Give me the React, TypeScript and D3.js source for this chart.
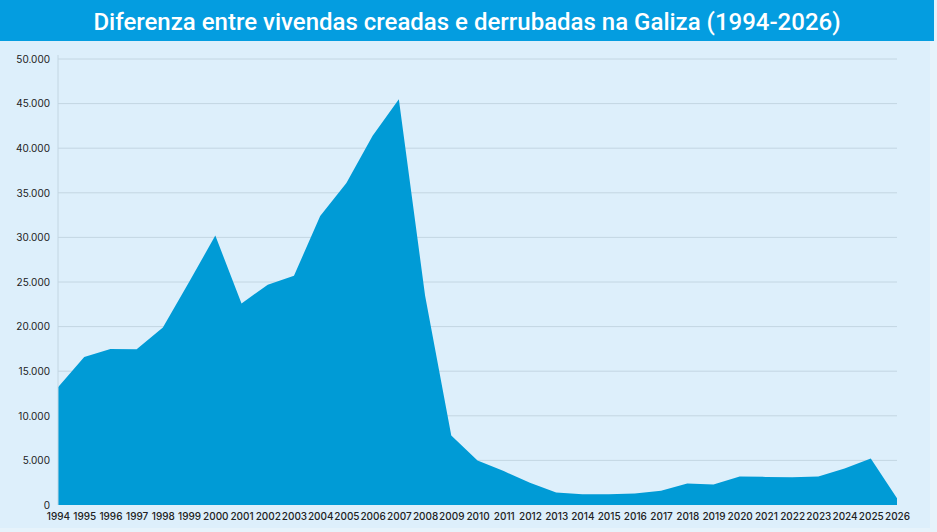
import React, { useEffect, useRef } from 'react';
import * as d3 from 'd3';

const years: number[] = d3.range(1994, 2027);
const values: number[] = [
  13200, 16600, 17500, 17450, 19900, 25000, 30200, 22600, 24700, 25700,
  32400, 36100, 41400, 45500, 23500, 7800, 5000, 3800, 2500, 1400,
  1200, 1200, 1300, 1600, 2400, 2300, 3200, 3150, 3100, 3200,
  4100, 5200, 750,
];
const yTickValues: number[] = [0, 5000, 10000, 15000, 20000, 25000, 30000, 35000, 40000, 45000, 50000];
const title = 'Diferenza entre vivendas creadas e derrubadas na Galiza (1994-2026)';

const W = 937;
const H = 532;

const App: React.FC = () => {
  const svgRef = useRef<SVGSVGElement | null>(null);

  useEffect(() => {
    if (!svgRef.current) return;
    const svg = d3.select(svgRef.current).html('');

    const margin = { top: 59, right: 40, bottom: 27, left: 58 };
    const x = d3.scaleLinear()
      .domain([1994, 2026])
      .range([margin.left, W - margin.right]);
    const y = d3.scaleLinear()
      .domain([0, 50000])
      .range([H - margin.bottom, margin.top]);

    // background panel
    svg.append('rect')
      .attr('x', 0).attr('y', 0).attr('width', W).attr('height', H)
      .attr('fill', '#e6f3fb');
    svg.append('rect')
      .attr('x', 0).attr('y', 41).attr('width', 930).attr('height', 487)
      .attr('fill', '#ddeffb');

    // title bar
    svg.append('rect')
      .attr('x', 0).attr('y', 0).attr('width', 934).attr('height', 41)
      .attr('fill', '#049de0');
    svg.append('text')
      .attr('x', 467).attr('y', 29.5)
      .attr('text-anchor', 'middle')
      .attr('font-family', 'Roboto, sans-serif')
      .attr('font-weight', 500)
      .attr('font-size', 24)
      .attr('fill', '#ffffff')
      .text(title);

    // grid lines
    svg.append('g')
      .selectAll('line')
      .data(yTickValues.filter(d => d > 0))
      .enter()
      .append('line')
      .attr('x1', margin.left)
      .attr('x2', W - margin.right)
      .attr('y1', d => y(d))
      .attr('y2', d => y(d))
      .attr('stroke', '#c3d6e2')
      .attr('stroke-width', 1);

    // area
    const area = d3.area<number>()
      .x((_, i) => x(years[i]))
      .y0(y(0))
      .y1(d => y(d));
    svg.append('path')
      .datum(values)
      .attr('fill', '#009bd6')
      .attr('d', area);

    // y axis line
    svg.append('line')
      .attr('x1', margin.left).attr('x2', margin.left)
      .attr('y1', y(50000) - 4).attr('y2', y(0))
      .attr('stroke', '#c3d6e2');

    const fmt = (d: number) => d === 0 ? '0' : d3.format(',')(d).replace(/,/g, '.');

    const yAxis = d3.axisLeft(y)
      .tickValues(yTickValues)
      .tickFormat(d => fmt(d as number))
      .tickSize(0)
      .tickPadding(8);
    svg.append('g')
      .attr('transform', `translate(${margin.left},0)`)
      .call(yAxis)
      .call(g => g.select('.domain').remove())
      .selectAll('text')
      .attr('font-family', 'Inter, sans-serif')
      .attr('font-size', 10)
      .attr('fill', '#222');

    const xAxis = d3.axisBottom(x)
      .tickValues(years)
      .tickFormat(d => String(d))
      .tickSize(0)
      .tickPadding(8);
    svg.append('g')
      .attr('transform', `translate(0,${y(0)})`)
      .call(xAxis)
      .call(g => g.select('.domain').remove())
      .selectAll('text')
      .attr('font-family', 'Inter, sans-serif')
      .attr('font-size', 10)
      .attr('font-weight', 500)
      .attr('fill', '#222');
  }, []);

  return (
    <svg
      ref={svgRef}
      width={W}
      height={H}
      style={{ position: 'absolute', left: 0, top: 0, display: 'block' }}
    />
  );
};

export default App;
